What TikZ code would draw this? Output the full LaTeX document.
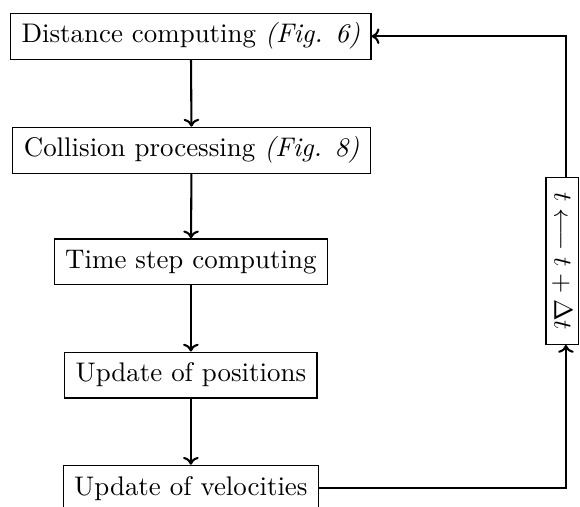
\documentclass[tikz,border=0pt]{standalone}
\usepackage{tikz}
\usetikzlibrary{arrows.meta}
\tikzset{stagebox/.style={draw,line width=0.45pt,minimum height=0.62cm,inner xsep=4.2pt,font=\fontsize{10.35pt}{12pt}\selectfont},
  flowline/.style={line width=0.8pt,-{To[length=3pt,width=6pt]}}}

\begin{document}
\begin{tikzpicture}
\useasboundingbox (0,0) rectangle (7.84,6.84);
\node[stagebox] (dist) at (2.58,6.35) {Distance computing \textit{(Fig. 6)}};
\node[stagebox] (coll) at (2.59,4.81) {Collision processing \textit{(Fig. 8)}};
\node[stagebox] (tstep) at (2.58,3.30) {Time step computing};
\node[stagebox] (pos) at (2.58,1.77) {Update of positions};
\node[stagebox] (vel) at (2.58,0.24) {Update of velocities};
\node[stagebox,rotate=-90,minimum height=0.44cm,inner ysep=1pt,inner xsep=5.5pt] (incr) at (7.6,3.31) {$t \longleftarrow t+\Delta t$};
\coordinate (topright) at (7.65,6.35);
\coordinate (botright) at (7.65,0.24);
\draw[flowline] (dist) -- (coll);
\draw[flowline] (coll) -- (tstep);
\draw[flowline] (tstep) -- (pos);
\draw[flowline] (pos) -- (vel);
\draw[flowline] (vel.east) -- (botright) -- (botright|-incr.east);
\draw[flowline] (topright|-incr.west) -- (topright) -- (dist.east);
\end{tikzpicture}
\end{document}
